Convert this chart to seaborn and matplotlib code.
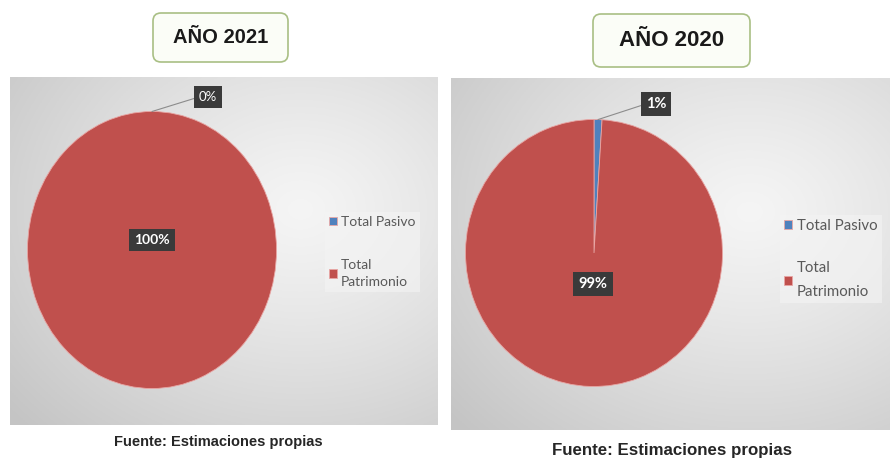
import numpy as np
import matplotlib
matplotlib.use('Agg')
import matplotlib.pyplot as plt
import seaborn as sns
from matplotlib.patches import FancyBboxPatch
from matplotlib.transforms import IdentityTransform

sns.set_theme(style='white')
plt.rcParams['font.family'] = ['Liberation Sans', 'DejaVu Sans']

categorias = ['Total Pasivo', 'Total Patrimonio']
etiquetas_leyenda = ['Total Pasivo', 'Total\nPatrimonio']
valores_2021 = [0, 100]
valores_2020 = [1, 99]
titulos = ['AÑO 2021', 'AÑO 2020']
fuente = 'Fuente: Estimaciones propias'

colores = sns.color_palette(['#4F81BD', '#C0504D'])

W, H = 890, 462
fig = plt.figure(figsize=(W / 100, H / 100), dpi=100)


def fx(x):
    return x / W


def fy(y):
    return 1 - y / H


def fondo(x0, y0, x1, y1, cx, cy):
    # gradiente radial gris tipo Excel
    ax = fig.add_axes([fx(x0), fy(y1), fx(x1 - x0), (y1 - y0) / H])
    xx, yy = np.meshgrid(np.linspace(0, 1, 200), np.linspace(0, 1, 200))
    d = np.sqrt(((xx - cx) / 0.9) ** 2 + ((yy - cy) / 0.9) ** 2)
    d = np.clip(d, 0, 1)
    c = 0.96 - 0.19 * d ** 1.2
    ax.imshow(np.dstack([c, c, c]), extent=[0, 1, 0, 1], aspect='auto', origin='upper')
    ax.set_axis_off()


def pastel(panel, pie_c, rx, ry, valores, titulo, caja, tam_titulo,
           desp_int, ext_pos, ext_fs, ext_bold, int_fs, ley_pos, ley_fs, ley_esp, ley_lin,
           fuente_pos, fuente_fs):
    x0, y0, x1, y1 = panel
    cx, cy = pie_c
    ax = fig.add_axes([fx(x0), fy(y1), fx(x1 - x0), (y1 - y0) / H])
    wedges, _ = ax.pie(valores, colors=colores, startangle=90, counterclock=False,
                       wedgeprops=dict(linewidth=0.6, edgecolor='#e8a6a4'))
    ax.set_aspect('auto')
    ax.set_xlim((x0 - cx) / rx, (x1 - cx) / rx)
    ax.set_ylim(-(y1 - cy) / ry, (cy - y0) / ry)
    ax.set_axis_off()

    total = sum(valores)
    caja_lbl = dict(boxstyle='square,pad=0.35', facecolor='#3a3a3a', edgecolor='none')
    # etiqueta exterior (pasivo) con linea guia
    w = wedges[0]
    ang = np.deg2rad((w.theta1 + w.theta2) / 2)
    tx, ty = (ext_pos[0] - cx) / rx, (cy - ext_pos[1]) / ry
    ax.annotate(f'{valores[0] / total:.0%}', xy=(np.cos(ang), np.sin(ang)),
                xytext=(tx, ty), ha='center', va='center', color='white',
                fontsize=ext_fs, fontweight='bold' if ext_bold else 'normal',
                family=['Lato', 'DejaVu Sans'], bbox=caja_lbl,
                arrowprops=dict(arrowstyle='-', color='#8c8c8c', lw=0.8,
                                shrinkA=0, shrinkB=0, relpos=(0, 0.5)))
    # etiqueta interior (patrimonio)
    w = wedges[1]
    ang = np.deg2rad((w.theta1 + w.theta2) / 2)
    ax.text(desp_int * np.cos(ang), desp_int * np.sin(ang),
            f'{valores[1] / total:.0%}', ha='center', va='center', color='white',
            fontsize=int_fs, fontweight='bold', family=['Lato', 'DejaVu Sans'], bbox=caja_lbl)

    leg = fig.legend(wedges, etiquetas_leyenda, loc='upper left',
                     bbox_to_anchor=(fx(ley_pos[0]), fy(ley_pos[1])), bbox_transform=fig.transFigure,
                     frameon=True, facecolor='#f4f4f4', edgecolor='none', framealpha=0.6,
                     fancybox=False, handlelength=0.55, handleheight=0.55, handletextpad=0.3,
                     labelspacing=ley_esp, borderpad=0.3, prop={'family': 'Lato', 'size': ley_fs})
    for t in leg.get_texts():
        t.set_color('#595959')
        t.set_linespacing(ley_lin)

    # recuadro del titulo
    bx0, by0, bx1, by1 = caja
    fig.add_artist(FancyBboxPatch((bx0, H - by1), bx1 - bx0, by1 - by0,
                                  boxstyle='round,pad=0,rounding_size=8',
                                  transform=IdentityTransform(), facecolor='#fbfdf7',
                                  edgecolor='#a9bf84', linewidth=1.2))
    fig.text(fx((bx0 + bx1) / 2), fy((by0 + by1) / 2), titulo, ha='center', va='center',
             fontsize=tam_titulo, fontweight='bold', color='#1a1a1a')
    fig.text(fx(fuente_pos[0]), fy(fuente_pos[1]), fuente, ha='center', va='center',
             fontsize=fuente_fs, fontweight='bold', color='#262626')


fondo(10, 77, 438, 425, 0.68, 0.38)
fondo(451, 78, 890, 430, 0.68, 0.38)

pastel((10, 77, 438, 425), (152, 250), 124.5, 138.5, valores_2021, titulos[0],
       (153, 13, 288, 62), 14.5, -0.07, (208, 97), 9.5, False, 10, (318, 205), 10, 2.2, 1.55,
       (218, 442), 10.5)
pastel((451, 78, 890, 430), (594, 253), 128.5, 133.5, valores_2020, titulos[1],
       (593, 14, 750, 67), 16, 0.23, (656, 104), 10.5, True, 10.5, (772, 207), 10.8, 1.9, 1.85,
       (672, 450), 12.2)

fig.savefig('out.png', dpi=100)
